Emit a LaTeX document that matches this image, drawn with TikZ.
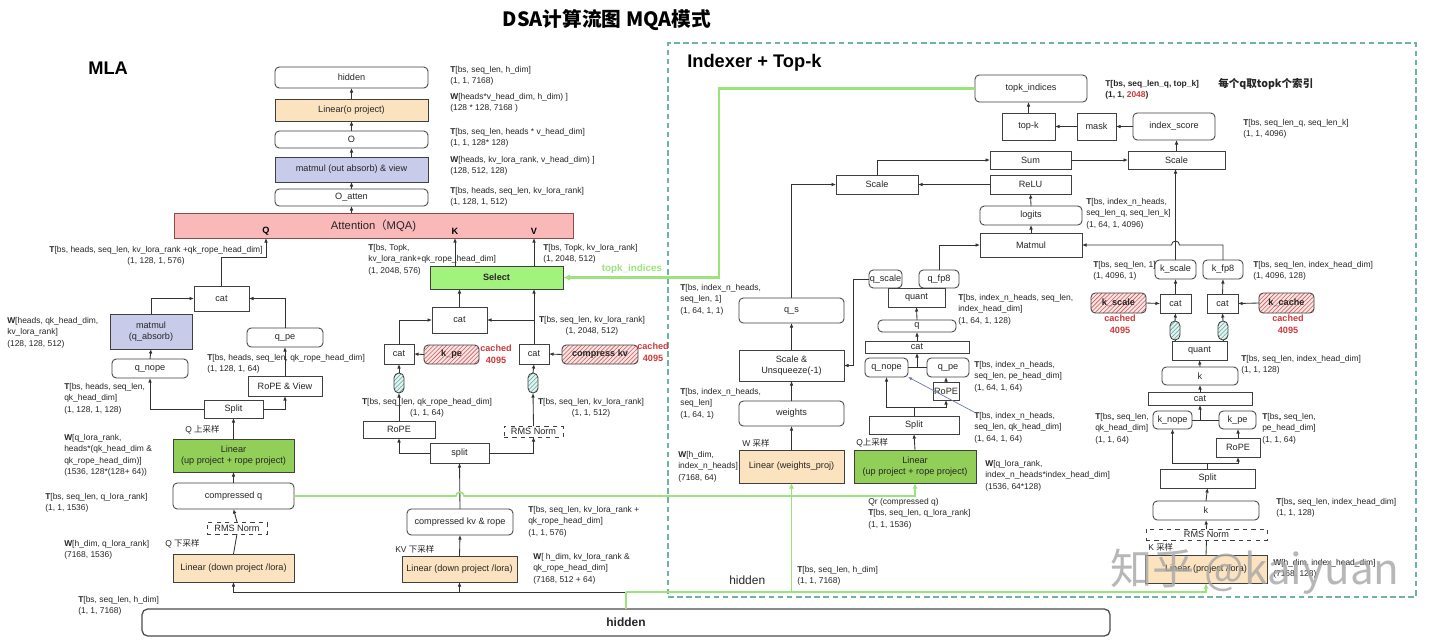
\documentclass[tikz,border=0pt]{standalone}
\usepackage{fontspec}
\setmainfont{Liberation Sans}
\newfontfamily\cjk{Noto Sans CJK SC}
\usetikzlibrary{fit,calc,patterns,arrows.meta}
\definecolor{orangeF}{HTML}{FCE3BF}
\definecolor{lavF}{HTML}{C9CBEA}
\definecolor{greenF}{HTML}{92CF58}
\definecolor{selF}{HTML}{A2F27E}
\definecolor{attF}{HTML}{F9B9B9}
\definecolor{attD}{HTML}{8C4A4A}
\definecolor{hatchF}{HTML}{FAE3E3}
\definecolor{hatchL}{HTML}{C8605C}
\definecolor{cylF}{HTML}{E2F3F0}
\definecolor{cylL}{HTML}{62A89F}
\definecolor{frameC}{HTML}{6FB3A6}
\definecolor{greenL}{HTML}{9BE37B}
\definecolor{redT}{HTML}{D03A3A}
\definecolor{ptrC}{HTML}{6E78B0}
\newcommand\dsanote{\fontsize{6}{8.2}\selectfont}
\newcommand\dsabox{\fontsize{6.5}{8}\selectfont}
\newcommand\Tb{\textbf{T}}
\newcommand\Wb{\textbf{W}}

\begin{document}
\begin{tikzpicture}[
  x=0.025cm, y=-0.025cm,
  box/.style={draw=black!75, rectangle, line width=0.6pt, inner sep=0pt, outer sep=0pt},
  rbox/.style={box, rounded corners=3pt},
  obox/.style={box, fill=orangeF},
  lbox/.style={box, fill=lavF},
  gbox/.style={box, fill=greenF},
  sbox/.style={box, fill=selF},
  abox/.style={box, fill=attF, draw=attD},
  hbox/.style={box, rounded corners=3pt, preaction={fill=hatchF}, pattern=north east lines, pattern color=hatchL},
  cyl/.style={box, rounded corners=3.5pt, preaction={fill=cylF}, pattern=north east lines, pattern color=cylL},
  dbox/.style={box, dashed, fill=white},
  frame/.style={draw=frameC, dash pattern=on 4pt off 2.5pt, line width=0.8pt, inner sep=0pt},
  note/.style={anchor=north west, align=left, inner sep=0pt, font=\dsanote, text=black!85},
  noteC/.style={note, anchor=north, align=center},
  tag/.style={inner sep=0pt, font=\dsanote, anchor=west, text=black!85},
  cached/.style={anchor=north, align=center, inner sep=0pt, font=\dsabox\bfseries, text=redT},
  every label/.style={font=\dsabox, align=center, inner sep=0pt, text=black!85},
  arr/.style={draw=black!80, line width=0.6pt, -{Latex[length=3.2pt,width=2.6pt]}},
  link/.style={draw=black!80, line width=0.6pt},
  gline/.style={draw=greenL, line width=1.1pt},
  garr/.style={gline, -{Latex[length=4pt,width=3.5pt]}},
  ptr/.style={draw=ptrC, line width=0.5pt, -{Latex[length=3pt,width=2.4pt]}},
]

\fill[white] (0,0) rectangle (1440,640);
\useasboundingbox (0,0) rectangle (1440,640);

\node (title) [font=\cjk\bfseries\fontsize{14}{16}\selectfont] at (607,20) {DSA计算流图 MQA模式};
\node (mlaT) [font=\bfseries\fontsize{13}{15}\selectfont, anchor=west, inner sep=0pt] at (88,68) {MLA};
\node (idxT) [font=\bfseries\fontsize{13}{15}\selectfont, anchor=west, inner sep=0pt] at (687,63) {Indexer + Top-k};
\node (idx) [frame, fit={(668,43) (1416,597)}] {};

% MLA output
\node (hidT) [rbox, fit={(275,67) (428,88)}, label=center:{hidden}] {};
\node (linO) [obox, fit={(275,99) (428,121)}, label=center:{Linear(o project)}] {};
\node (oT) [rbox, fit={(275,131) (428,148)}, label=center:{O}] {};
\node (mmO) [lbox, fit={(275,157) (428,182)}, label=center:{matmul (out absorb) \& view}] {};
\node (oAtt) [rbox, fit={(275,189) (428,206)}, label=center:{O\_atten}] {};
\node (att) [abox, fit={(174,213) (573,238)}, label={[font=\fontsize{8}{9}\selectfont]center:{Attention{\cjk （}MQA)}}] {};
\node (qLab) [font=\dsabox\bfseries, inner sep=0pt] at (266,231) {Q};
\node (kLab) [font=\dsabox\bfseries, inner sep=0pt] at (455,231) {K};
\node (vLab) [font=\dsabox\bfseries, inner sep=0pt] at (534,231) {V};
\coordinate (qIn) at (266,238);
\coordinate (kIn) at (455,238);
\coordinate (vIn) at (534,238);

\node (tHid) [note] at (450,66) {\Tb[bs, seq\_len, h\_dim]\\(1, 1, 7168)};
\node (wO) [note] at (450,93) {\Wb[heads*v\_head\_dim, h\_dim) ]\\(128 * 128, 7168 )};
\node (tO) [note] at (450,128) {\Tb[bs, seq\_len,  heads * v\_head\_dim]\\(1, 1, 128* 128)};
\node (wOut) [note] at (450,156) {\Wb[heads, kv\_lora\_rank, v\_head\_dim) ]\\(128, 512, 128)};
\node (tOatt) [note] at (450,187) {\Tb[bs, heads, seq\_len, kv\_lora\_rank]\\(1, 128, 1, 512)};

\draw[arr] (oAtt.south |- att.north) -- (oAtt.south);
\draw[arr] (oAtt.north) -- (mmO.south);
\draw[arr] (mmO.north) -- (oT.south);
\draw[arr] (oT.north) -- (linO.south);
\draw[arr] (linO.north) -- (hidT.south);

% MLA query
\node (tQ) [noteC] at (156,246) {\Tb[bs, heads, seq\_len, kv\_lora\_rank +qk\_rope\_head\_dim]\\(1, 128, 1, 576)};
\node (catQ) [box, fit={(194,286) (249,311)}, label=center:{cat}] {};
\node (mmQ) [lbox, fit={(110,314) (192,349)}, label=center:{matmul\\(q\_absorb)}] {};
\node (wAbs) [note] at (7,317) {\Wb[heads, qk\_head\_dim,\\kv\_lora\_rank]\\(128, 128,  512)};
\node (qpe) [rbox, fit={(247,328) (323,347)}, label=center:{q\_pe}] {};
\node (qnope) [rbox, fit={(112,359) (188,378)}, label=center:{q\_nope}] {};
\node (tQpe) [note] at (207,354) {\Tb[bs, heads, seq\_len, qk\_rope\_head\_dim]\\(1, 128, 1, 64)};
\node (ropeV) [box, fit={(248,376) (322,396)}, label=center:{RoPE \& View}] {};
\node (tQnope) [note] at (64,383) {\Tb[bs, heads, seq\_len,\\qk\_head\_dim]\\(1, 128, 1, 128)};
\node (splitQ) [box, fit={(204,400) (263,418)}, label=center:{Split}] {};
\node (upQ) [tag] at (185,430) {Q {\cjk 上采样}};
\node (linUp) [gbox, fit={(173,439) (294,472)}, label=center:{Linear\\(up project + rope project)}] {};
\node (wUp) [note] at (64,434) {\Wb[q\_lora\_rank,\\heads*(qk\_head\_dim \&\\qk\_rope\_head\_dim)]\\(1536, 128*(128+ 64))};
\node (cq) [rbox, fit={(173,483) (294,509)}, label=center:{compressed q}] {};
\node (tCq) [note] at (45,493) {\Tb[bs, seq\_len, q\_lora\_rank]\\(1, 1, 1536)};
\node (rmsQ) [dbox, fit={(207,522) (267,534)}, label=center:{RMS Norm}] {};
\node (wDn) [note] at (64,540) {\Wb[h\_dim, q\_lora\_rank]\\(7168, 1536)};
\node (dnQ) [tag] at (165,544) {Q {\cjk 下采样}};
\node (linDn) [obox, fit={(173,554) (294,582)}, label=center:{Linear (down project /lora)}] {};
\node (tHid2) [note] at (78,596) {\Tb[bs, seq\_len, h\_dim]\\(1, 1, 7168)};
\node (hidB) [rbox, draw=black!70, line width=0.9pt, rounded corners=4pt, fit={(142,609) (1110,636)}, label={[font=\fontsize{8.5}{10}\selectfont\bfseries]center:hidden}] {};

\draw[link] (linDn.north) -- (rmsQ.south);
\draw[arr] (rmsQ.north) -- (cq.south);
\draw[arr] (cq.north) -- (linUp.south);
\draw[arr] (linUp.north) -- (splitQ.south);
\draw[arr] (splitQ.west) -| (qnope.south);
\draw[arr] (splitQ.east) -| (ropeV.south);
\draw[arr] (ropeV.north) -- (qpe.south);
\draw[arr] (qnope.north) -- (mmQ.south);
\draw[arr] (mmQ.north) |- (catQ.west);
\draw[arr] (qpe.north) |- (catQ.east);
\draw[arr] (catQ.north) -- ++(0,-29) -| (qIn);

% MLA key / value
\node (tSelK) [note] at (368,244) {\Tb[bs, Topk,\\kv\_lora\_rank+qk\_rope\_head\_dim]\\(1,  2048, 576)};
\node (tSelV) [note] at (543,244) {\Tb[bs, Topk, kv\_lora\_rank]\\(1,  2048, 512)};
\node (sel) [sbox, fit={(430,266) (563,289)}, label=center:{\bfseries Select}] {};
\node (tkLab) [font=\fontsize{7}{8}\selectfont\bfseries, text=greenL, inner sep=0pt] at (632,269) {topk\_indices};
\node (catM) [box, fit={(432,307) (487,333)}, label=center:{cat}] {};
\node (tCkv) [noteC] at (592,316) {\Tb[bs, seq\_len, kv\_lora\_rank]\\(1, 2048, 512)};
\node (catL) [box, fit={(384,344) (414,364)}, label=center:{cat}] {};
\node (kpe) [hbox, fit={(424,345) (479,364)}, label=center:{\bfseries k\_pe}] {};
\node (cachA) [cached] at (496,345) {cached\\4095};
\node (catR) [box, fit={(519,344) (549,364)}, label=center:{cat}] {};
\node (ckvc) [hbox, fit={(562,345) (638,364)}, label=center:{\bfseries compress kv}] {};
\node (cachB) [cached] at (653,343) {cached\\4095};
\node (cylL) [cyl, fit={(394,373) (404,393)}] {};
\node (cylR) [cyl, fit={(528,373) (538,393)}] {};
\node (tRope) [noteC] at (427,398) {\Tb[bs, seq\_len, qk\_rope\_head\_dim]\\(1, 1, 64)};
\node (tRms) [noteC] at (591,398) {\Tb[bs, seq\_len, kv\_lora\_rank]\\(1, 1, 512)};
\node (ropeK) [box, fit={(363,421) (435,438)}, label=center:{RoPE}] {};
\node (rmsKV) [dbox, fit={(504,426) (563,437)}, label=center:{RMS Norm}] {};
\node (split) [box, fit={(430,443) (489,463)}, label=center:{split}] {};
\node (ckv) [rbox, fit={(407,509) (513,535)}, label=center:{compressed kv \& rope}] {};
\node (tCkvr) [note] at (528,506) {\Tb[bs, seq\_len, kv\_lora\_rank +\\qk\_rope\_head\_dim]\\(1, 1, 576)};
\node (dnKV) [tag] at (395,549) {KV {\cjk 下采样}};
\node (kvDn) [obox, fit={(402,556) (517,582)}, label=center:{Linear (down project /lora)}] {};
\node (wKv) [note] at (533,553) {\Wb[ h\_dim, kv\_lora\_rank \&\\qk\_rope\_head\_dim]\\(7168, 512 + 64)};

\draw[arr] (kvDn.north) -- (ckv.south);
\draw[arr] (ckv.north) -- (split.south);
\draw[arr] (split.west) -| (ropeK.south);
\draw[arr] (split.east) -| (rmsKV.south);
\draw[arr] (ropeK.north) -- (cylL.south);
\draw[arr] (cylL.north) -- (catL.south);
\draw[arr] (rmsKV.north) -- (cylR.south);
\draw[arr] (cylR.north) -- (catR.south);
\draw[arr] (kpe.west) -- (catL.east);
\draw[arr] (ckvc.west) -- (catR.east);
\draw[arr] (catL.north) |- (catM.west);
\draw[arr] (catR.north) -- (catR.north |- sel.south);
\draw[arr] (catR.north |- catM.east) -- (catM.east);
\draw[arr] (catM.north) -- (catM.north |- sel.south);
\draw[arr] (sel.north -| kIn) -- (kIn);
\draw[arr] (sel.north -| vIn) -- (vIn);

% indexer score
\node (topk) [rbox, fit={(975,75) (1087,102)}, label=center:{topk\_indices}] {};
\node (tTopk) [note, font=\dsanote\bfseries] at (1105,80) {T[bs, seq\_len\_q, top\_k]\\(1, 1, \textcolor{redT}{2048})};
\node (perQ) [tag, font=\cjk\bfseries\fontsize{7.5}{9}\selectfont] at (1218,84) {每个q取topk个索引};
\node (topkB) [box, fit={(1002,113) (1055,140)}, label=center:{top-k}] {};
\node (mask) [box, fit={(1077,113) (1116,140)}, label=center:{mask}] {};
\node (iscore) [rbox, fit={(1133,113) (1215,140)}, label=center:{index\_score}] {};
\node (tIs) [note] at (1243,119) {\Tb[bs, seq\_len\_q,  seq\_len\_k]\\(1, 1, 4096)};
\node (sum) [box, fit={(990,151) (1071,169)}, label=center:{Sum}] {};
\node (scaleR) [box, fit={(1128,151) (1225,169)}, label=center:{Scale}] {};
\node (relu) [box, fit={(990,175) (1071,194)}, label=center:{ReLU}] {};
\node (scaleL) [box, fit={(836,175) (918,194)}, label=center:{Scale}] {};
\node (logits) [rbox, fit={(980,206) (1082,225)}, label=center:{logits}] {};
\node (tLog) [note] at (1086,198) {\Tb[bs, index\_n\_heads,\\seq\_len\_q, seq\_len\_k]\\(1, 64,  1, 4096)};
\node (matmul) [box, fit={(980,233) (1082,257)}, label=center:{Matmul}] {};

\draw[arr] (topkB.north) -- (topkB.north |- topk.south);
\draw[arr] (mask.west) -- (topkB.east);
\draw[arr] (iscore.west) -- (mask.east);
\draw[arr] (scaleR.north) -- (scaleR.north |- iscore.south);
\draw[arr] (sum.east) -- (scaleR.west);
\draw[arr] (relu.west) -- (scaleL.east);
\draw[arr] (scaleL.north) |- (sum.west);
\draw[arr] (logits.north) -- (relu.south);
\draw[arr] (matmul.north) -- (logits.south);

% indexer query
\node (qs) [rbox, fit={(739,298) (844,323)}, label=center:{q\_s}] {};
\node (tQs) [note] at (680,284) {\Tb[bs, index\_n\_heads,\\seq\_len, 1]\\(1, 64,  1, 1)};
\node (scUn) [box, fit={(739,350) (844,381)}, label=center:{Scale \&\\Unsqueeze(-1)}] {};
\node (weights) [rbox, fit={(739,401) (844,426)}, label=center:{weights}] {};
\node (tW) [note] at (680,388) {\Tb[bs, index\_n\_heads,\\seq\_len]\\(1, 64,  1)};
\node (wSam) [tag] at (742,443) {W {\cjk 采样}};
\node (linW) [obox, fit={(739,450) (844,483)}, label=center:{Linear (weights\_proj)}] {};
\node (wW) [note] at (678,451) {\Wb[h\_dim,\\index\_n\_heads]\\(7168, 64)};
\node (qscale) [rbox, fit={(869,270) (902,288)}, label=center:{q\_scale}] {};
\node (qfp8) [rbox, fit={(919,270) (959,288)}, label=center:{q\_fp8}] {};
\node (quantQ) [box, fit={(888,288) (945,307)}, label=center:{quant}] {};
\node (tQq) [note] at (958,294) {\Tb[bs, index\_n\_heads, seq\_len,\\index\_head\_dim]\\(1, 64,  1, 128)};
\node (q) [rbox, fit={(878,320) (956,332)}, label=center:{q}] {};
\node (catQI) [box, fit={(865,341) (969,353)}, label=center:{cat}] {};
\node (qnopeI) [rbox, fit={(865,358) (908,377)}, label=center:{q\_nope}] {};
\node (qpeI) [rbox, fit={(927,358) (969,377)}, label=center:{q\_pe}] {};
\node (tQpeI) [note] at (974,361) {\Tb[bs, index\_n\_heads,\\seq\_len, pe\_head\_dim]\\(1, 64,  1, 64)};
\node (ropeQ) [box, fit={(933,382) (959,400)}, label=center:{RoPE}] {};
\node (splitQI) [box, fit={(869,416) (959,434)}, label=center:{Split}] {};
\node (tQk) [note] at (974,412) {\Tb[bs, index\_n\_heads,\\seq\_len, qk\_head\_dim]\\(1, 64,  1, 64)};
\node (upQI) [tag] at (856,443) {Q{\cjk 上采样}};
\node (linUpI) [gbox, fit={(854,450) (976,483)}, label=center:{Linear\\(up project + rope project)}] {};
\node (wUpI) [note] at (985,460) {\Wb[q\_lora\_rank,\\index\_n\_heads*index\_head\_dim]\\(1536, 64*128)};
\node (tQr) [note] at (868,498) {Qr (compressed q)\\\Tb[bs, seq\_len, q\_lora\_rank]\\(1, 1, 1536)};
\node (tHidI) [note] at (797,566) {\Tb[bs, seq\_len, h\_dim]\\(1, 1, 7168)};
\node (hidI) [tag, font=\fontsize{8.5}{10}\selectfont] at (729,580) {hidden};

\draw[arr] (linW.north) -- (weights.south);
\draw[arr] (weights.north) -- (scUn.south);
\draw[arr] (scUn.north) -- (qs.south);
\draw[arr] (qs.north) |- (scaleL.west);
\draw[arr] (qscale.west) -- ++(-16,0) |- (scUn.east);
\draw[arr] (qfp8.north) |- (matmul.west);
\draw[arr] (q.north) -- (quantQ.south);
\draw[arr] (catQI.north) -- (q.south);
\draw[link] (qnopeI.east) -- (qpeI.west);
\draw[arr] (qnopeI.east -| catQI.south) -- (catQI.south);
\draw[arr] (ropeQ.north) -- (ropeQ.north |- qpeI.south);
\draw[arr] (splitQI.north) -- ++(0,-9) -| (qnopeI.south);
\draw[arr] (splitQI.north) ++(0,-9) -| (ropeQ.south);
\draw[arr] (linUpI.north) -- (splitQI.south);
\draw[ptr] (tQk.north west) -- (qnopeI.south east);

% indexer key
\node (kscale) [rbox, fit={(1155,260) (1196,279)}, label=center:{k\_scale}] {};
\node (kfp8) [rbox, fit={(1203,260) (1243,279)}, label=center:{k\_fp8}] {};
\node (tKs) [note] at (1093,261) {\Tb[bs, seq\_len, 1]\\(1,  4096, 1)};
\node (tKf) [note] at (1253,261) {\Tb[bs, seq\_len, index\_head\_dim]\\(1,  4096, 128)};
\node (kscH) [hbox, fit={(1091,293) (1146,313)}, label=center:{\bfseries k\_scale}] {};
\node (cachC) [cached] at (1120,315) {cached\\4095};
\node (catK1) [box, fit={(1160,294) (1191,313)}, label=center:{cat}] {};
\node (catK2) [box, fit={(1207,294) (1238,313)}, label=center:{cat}] {};
\node (kcache) [hbox, fit={(1259,293) (1314,313)}, label=center:{\bfseries k\_cache}] {};
\node (cachD) [cached] at (1288,315) {cached\\4095};
\node (cylK1) [cyl, fit={(1170,321) (1180,340)}] {};
\node (cylK2) [cyl, fit={(1218,321) (1228,340)}] {};
\node (quantK) [box, fit={(1172,341) (1227,360)}, label=center:{quant}] {};
\node (tKq) [note] at (1241,355) {\Tb[bs, seq\_len, index\_head\_dim]\\(1,  1, 128)};
\node (kI) [rbox, fit={(1162,367) (1238,385)}, label=center:{k}] {};
\node (catKw) [box, fit={(1148,392) (1252,405)}, label=center:{cat}] {};
\node (knope) [rbox, fit={(1153,411) (1192,429)}, label=center:{k\_nope}] {};
\node (kpeI) [rbox, fit={(1219,411) (1256,429)}, label=center:{k\_pe}] {};
\node (tKn) [note] at (1095,413) {\Tb[bs,, seq\_len,\\qk\_head\_dim]\\(1, 1, 64)};
\node (tKp) [note] at (1262,413) {\Tb[bs,, seq\_len,\\pe\_head\_dim]\\(1, 1, 64)};
\node (ropeKI) [box, fit={(1216,438) (1260,457)}, label=center:{RoPE}] {};
\node (splitK) [box, fit={(1160,469) (1255,488)}, label=center:{Split}] {};
\node (kk) [rbox, fit={(1153,501) (1259,520)}, label=center:{k}] {};
\node (tKk) [note] at (1276,498) {\Tb[bs,, seq\_len, index\_head\_dim]\\(1,  1, 128)};
\node (rmsK) [dbox, fit={(1146,529) (1267,540)}, label=center:{RMS Norm}] {};
\node (kSam) [tag] at (1148,547) {K {\cjk 采样}};
\node (linK) [obox, fit={(1145,555) (1267,583)}, label=center:{Linear (project /lora)}] {};
\node (wK) [note] at (1273,559) {\Wb[h\_dim, index\_head\_dim]\\(7168, 128)};

\draw[link] (linK.north) -- (rmsK.south);
\draw[arr] (rmsK.north) -- (kk.south);
\draw[arr] (kk.north) -- (splitK.south);
\draw[arr] (splitK.north) -- ++(0,-6) -| (knope.south);
\draw[arr] (splitK.north) ++(0,-6) -| (ropeKI.south);
\draw[arr] (ropeKI.north) -- (ropeKI.north |- kpeI.south);
\draw[link] (knope.east) -- (kpeI.west);
\draw[arr] (knope.east -| catKw.south) -- (catKw.south);
\draw[arr] (catKw.north) -- (kI.south);
\draw[arr] (kI.north) -- (quantK.south);
\draw[link] (quantK.north -| cylK1.south) -- (cylK1.south);
\draw[link] (quantK.north -| cylK2.south) -- (cylK2.south);
\draw[arr] (cylK1.north) -- (catK1.south);
\draw[arr] (cylK2.north) -- (catK2.south);
\draw[arr] (kscH.east) -- (catK1.west);
\draw[arr] (kcache.west) -- (catK2.east);
\draw[arr] (catK1.north) -- (kscale.south);
\draw[arr] (catK2.north) -- (kfp8.south);
\draw[arr] (kscale.north) -- (kscale.north |- scaleR.south);
\coordinate (hopB) at (kscale.north |- matmul.east);
\draw[arr] (kfp8.north) |- ($(hopB)+(4,0)$) arc[start angle=0, end angle=180, radius=0.1cm] -- (matmul.east);

% hidden and green links
\coordinate (hj) at ($(hidB.north)+(0,-17)$);
\draw[arr] (hj) -| (linDn.south);
\draw[arr] (hj -| kvDn.south) -- (kvDn.south);
\draw[gline] (hidB.north) -- (hj);
\draw[garr] (hj) -| (linK.south);
\draw[garr] (hj -| linW.south) -- (linW.south);
\coordinate (hopA) at (cq.east -| ckv.north);
\draw[garr] (cq.east) -- ($(hopA)+(-4,0)$) arc[start angle=180, end angle=0, radius=0.1cm] -| (linUpI.south);
\draw[draw=greenL, line width=1.6pt, -{Latex[length=5pt,width=4.5pt]}] (topk.west) -- ++(-256,0) |- (sel.east);

\node (zh) [font=\cjk\fontsize{30}{32}\selectfont, text=gray!70, text opacity=0.8] at (1255,572) {知乎 @kaiyuan};

\end{tikzpicture}
\end{document}
